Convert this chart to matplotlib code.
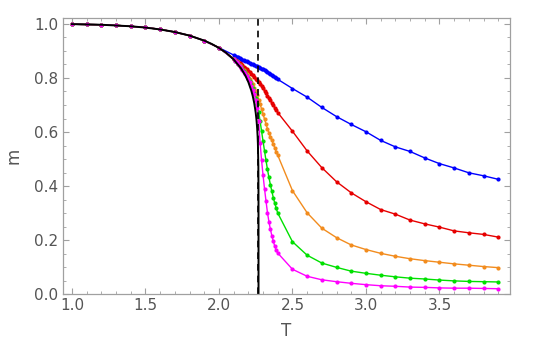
import matplotlib
matplotlib.use("Agg")
import matplotlib.pyplot as plt
from matplotlib.ticker import MultipleLocator

# temperatures of the simulation points
T_low = [1.0, 1.1, 1.2, 1.3, 1.4, 1.5, 1.6, 1.7, 1.8, 1.9, 2.0]
T_mid = [2.10, 2.11, 2.12, 2.13, 2.14, 2.15, 2.16, 2.17, 2.18, 2.19, 2.20,
         2.21, 2.22, 2.23, 2.24, 2.25, 2.26, 2.27, 2.28, 2.29, 2.30,
         2.31, 2.32, 2.33, 2.34, 2.35, 2.36, 2.37, 2.38, 2.39, 2.40]
T_high = [2.5, 2.6, 2.7, 2.8, 2.9, 3.0, 3.1, 3.2, 3.3, 3.4, 3.5, 3.6, 3.7, 3.8, 3.9]
T_sim = T_low + T_mid + T_high

# low temperature part, same for every lattice size
m_low = [0.999, 0.998, 0.997, 0.995, 0.991, 0.987, 0.980, 0.970, 0.957, 0.938, 0.912]

m_blue = m_low + [
    0.885, 0.882, 0.879, 0.877, 0.874, 0.871, 0.868, 0.866, 0.863, 0.861, 0.858,
    0.856, 0.853, 0.851, 0.848, 0.846, 0.843, 0.841, 0.838, 0.835, 0.832,
    0.829, 0.826, 0.823, 0.819, 0.816, 0.812, 0.808, 0.804, 0.800, 0.795,
] + [0.761, 0.729, 0.691, 0.657, 0.628, 0.601, 0.569, 0.545, 0.528, 0.504,
     0.483, 0.467, 0.449, 0.438, 0.425]

m_red = m_low + [
    0.872, 0.868, 0.864, 0.860, 0.856, 0.851, 0.847, 0.842, 0.837, 0.832, 0.827,
    0.821, 0.816, 0.810, 0.804, 0.798, 0.792, 0.785, 0.778, 0.770, 0.762,
    0.753, 0.744, 0.735, 0.726, 0.717, 0.708, 0.699, 0.690, 0.681, 0.672,
] + [0.603, 0.530, 0.468, 0.416, 0.375, 0.342, 0.313, 0.296, 0.274, 0.260,
     0.248, 0.234, 0.227, 0.221, 0.211]

m_orange = m_low + [
    0.870, 0.865, 0.859, 0.853, 0.847, 0.841, 0.835, 0.828, 0.821, 0.813, 0.805,
    0.796, 0.786, 0.776, 0.764, 0.751, 0.736, 0.720, 0.703, 0.685, 0.666,
    0.648, 0.630, 0.612, 0.597, 0.583, 0.569, 0.555, 0.541, 0.527, 0.514,
] + [0.383, 0.301, 0.244, 0.209, 0.182, 0.165, 0.151, 0.140, 0.131, 0.124,
     0.118, 0.112, 0.107, 0.102, 0.098]

m_green = m_low + [
    0.869, 0.864, 0.858, 0.852, 0.846, 0.839, 0.832, 0.825, 0.817, 0.808, 0.799,
    0.788, 0.776, 0.762, 0.746, 0.727, 0.705, 0.675, 0.640, 0.603, 0.566,
    0.530, 0.495, 0.462, 0.432, 0.405, 0.380, 0.357, 0.336, 0.317, 0.300,
] + [0.194, 0.144, 0.115, 0.099, 0.085, 0.077, 0.070, 0.064, 0.059, 0.056,
     0.052, 0.049, 0.047, 0.046, 0.045]

m_magenta = m_low + [
    0.869, 0.864, 0.858, 0.851, 0.845, 0.838, 0.831, 0.823, 0.815, 0.806, 0.796,
    0.785, 0.772, 0.757, 0.739, 0.717, 0.688, 0.640, 0.560, 0.495, 0.440,
    0.390, 0.345, 0.302, 0.268, 0.240, 0.216, 0.195, 0.177, 0.163, 0.152,
] + [0.092, 0.066, 0.053, 0.046, 0.040, 0.035, 0.031, 0.029, 0.026, 0.025,
     0.023, 0.022, 0.022, 0.021, 0.020]

# exact curve
T_exact = [1.0, 1.2, 1.4, 1.5, 1.6, 1.7, 1.8, 1.9, 1.95, 2.0, 2.05, 2.1, 2.15,
           2.18, 2.2, 2.22, 2.23, 2.24, 2.25, 2.255, 2.26, 2.263, 2.265, 2.268,
           2.269, 2.2691, 2.2692, 2.2692]
m_exact = [0.9993, 0.9970, 0.9914, 0.9865, 0.9796, 0.9701, 0.9569, 0.9383,
           0.9262, 0.9113, 0.8928, 0.8687, 0.8358, 0.8084, 0.7847, 0.7535,
           0.7331, 0.7073, 0.6719, 0.6473, 0.6134, 0.5840, 0.5563, 0.4752,
           0.3768, 0.3419, 0.25, 0.0]

Tc = 2.269

series = [
    (m_blue, "#0000ff"),
    (m_red, "#e60000"),
    (m_orange, "#f28c1e"),
    (m_green, "#00e000"),
    (m_magenta, "#ff00ff"),
]

fig = plt.figure(figsize=(5.36, 3.6), dpi=100)
ax = fig.add_axes([0.1175, 0.183, 0.834, 0.767])

for m, c in series:
    ax.plot(T_sim, m, color=c, lw=1.0, marker="o", ms=3.0, mew=0)

ax.plot(T_exact, m_exact, color="black", lw=1.4)
ax.axvline(Tc, color="black", lw=1.2, ls=(0, (4, 3)))

ax.set_xlim(0.939, 3.98)
ax.set_ylim(0, 1.022)
ax.xaxis.set_major_locator(MultipleLocator(0.5))
ax.xaxis.set_minor_locator(MultipleLocator(0.1))
ax.yaxis.set_major_locator(MultipleLocator(0.2))
ax.yaxis.set_minor_locator(MultipleLocator(0.05))
ax.xaxis.set_major_formatter(plt.FuncFormatter(lambda v, p: f"{v:.1f}"))
ax.yaxis.set_major_formatter(plt.FuncFormatter(lambda v, p: f"{v:.1f}"))

frame = "#a0a0a0"
for s in ax.spines.values():
    s.set_color(frame)
    s.set_linewidth(0.9)
ax.tick_params(which="both", direction="in", top=True, right=True,
               color=frame, labelcolor="#555555", labelsize=11)
ax.tick_params(which="major", length=4.5, width=0.8)
ax.tick_params(which="minor", length=2.5, width=0.6)
ax.tick_params(axis="x", pad=3)

ax.set_xlabel("T", color="#555555", fontsize=12, labelpad=6)
ax.set_ylabel("m", color="#555555", fontsize=12, labelpad=8)

fig.savefig("out.png", dpi=100)
